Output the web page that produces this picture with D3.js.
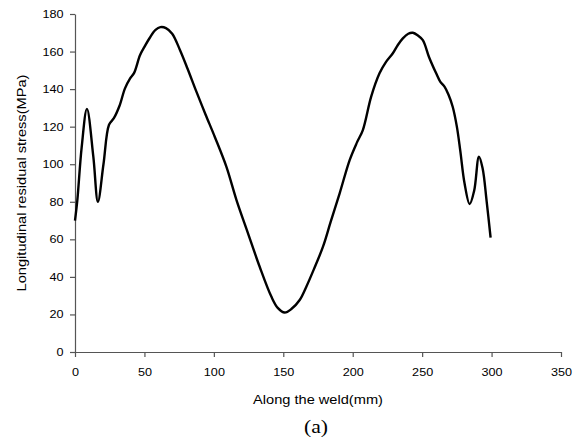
<!DOCTYPE html>
<html><head><meta charset="utf-8">
<script src="https://cdn.jsdelivr.net/npm/d3@7"></script>
<style>body{margin:0;background:#fff}svg{display:block}</style>
</head><body>
<svg id="c" width="577" height="440"></svg>
<script>
const xPos = [0, 1.7, 4.8, 8.6, 13.2, 16.5, 20.5, 24.5, 28, 32, 36, 39.6, 42.5, 46.8, 50, 54, 58, 61.5, 65.5, 70, 75.5, 81, 87.5, 94, 100.7, 109, 116.3, 124.6, 133, 141.4, 146, 151, 156, 161.8, 166.6, 172, 178.6, 184, 190.6, 197.8, 203, 207.3, 213.3, 219.3, 224, 228.9, 232.5, 236.1, 240, 243.3, 247, 250.5, 255, 260.1, 263, 266.1, 269, 272, 275, 277.5, 280.5, 284.2, 287.5, 290.9, 293.5, 296.5, 299.3];
const stress = [70, 81, 109, 129.5, 104, 80, 100, 121, 124.5, 131, 140.4, 145.6, 148.5, 158, 162.5, 167.5, 171.5, 173, 172.5, 169.5, 161, 151, 138.5, 126.5, 114.5, 98.7, 80.9, 63.2, 45.4, 29.5, 23.5, 21, 23, 27.7, 34.8, 44, 56.1, 69, 84.5, 102.2, 111.5, 118.2, 136, 148.4, 154.5, 159.1, 163.5, 167, 169.5, 170, 168.5, 166.1, 157, 148.4, 144, 141.3, 137, 130.6, 120, 107, 90, 78.8, 86, 104, 98, 80, 60.9];
const xTicks = [0, 50, 100, 150, 200, 250, 300, 350];
const yTicks = [0, 20, 40, 60, 80, 100, 120, 140, 160, 180];
const xTitle = "Along the weld(mm)";
const yTitle = "Longitudinal residual stress(MPa)";
const caption = "(a)";

const svg = d3.select("#c");
const L = 75, R = 561, T = 14, B = 352;
const x = d3.scaleLinear().domain([0, 350]).range([L, R]);
const y = d3.scaleLinear().domain([0, 180]).range([B, T]);
const axisColor = "#555";
const font = "'Liberation Sans', Arial, sans-serif";
const stretch = 1.16;
function widen(sel, f) {
  sel.each(function () {
    const w = this.getComputedTextLength();
    d3.select(this).attr("textLength", w * f).attr("lengthAdjust", "spacingAndGlyphs");
  });
}

const gx = svg.append("g").attr("transform", `translate(0,${B})`)
  .call(d3.axisBottom(x).tickValues(xTicks).tickSize(5).tickSizeOuter(0).tickPadding(11));
const gy = svg.append("g").attr("transform", `translate(${L},0)`)
  .call(d3.axisLeft(y).tickValues(yTicks).tickSize(5).tickSizeOuter(0).tickPadding(6.5));
[gx, gy].forEach(g => {
  g.attr("font-family", null).attr("font-size", null);
  g.select(".domain").attr("stroke", axisColor).attr("stroke-width", 1.2);
  g.selectAll(".tick line").attr("stroke", axisColor).attr("stroke-width", 1.2);
  g.selectAll(".tick text").attr("fill", "#000").style("font-family", font).style("font-size", "10.9px")
    .call(widen, stretch);
});

const data = xPos.map((d, i) => [d, stress[i]]);
svg.append("path").datum(data)
  .attr("fill", "none").attr("stroke", "#000").attr("stroke-width", 2.4)
  .attr("stroke-linejoin", "round")
  .attr("d", d3.line().x(d => x(d[0])).y(d => y(d[1])).curve(d3.curveCatmullRom.alpha(0.5)));

svg.append("text").attr("x", (L + R) / 2).attr("y", 404).attr("text-anchor", "middle")
  .style("font-family", font).style("font-size", "12.6px").text(xTitle).call(widen, stretch);
svg.append("text").attr("transform", `translate(26,${(T + B) / 2}) rotate(-90)`).attr("text-anchor", "middle")
  .style("font-family", font).style("font-size", "12.6px").text(yTitle).call(widen, stretch);
svg.append("text").attr("x", (L + R) / 2 - 2).attr("y", 433).attr("text-anchor", "middle")
  .style("font-family", "'Liberation Serif', 'Times New Roman', serif").style("font-size", "18px").text(caption)
  .call(widen, 1.2);
</script>
</body></html>
